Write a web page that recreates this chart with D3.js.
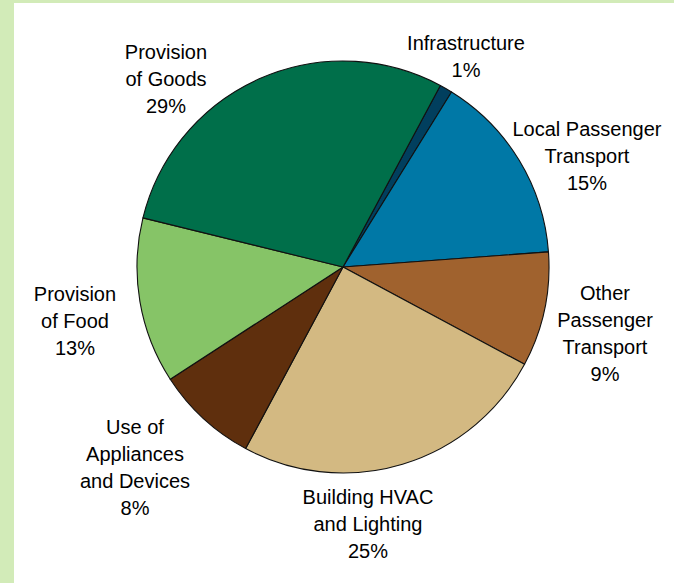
<!DOCTYPE html>
<html>
<head>
<meta charset="utf-8">
<script src="https://cdn.jsdelivr.net/npm/d3@7"></script>
<style>
  html, body { margin: 0; padding: 0; background: #ffffff; }
  svg { display: block; }
  .lbl { font-family: "Liberation Sans", Arial, sans-serif; font-size: 20px; fill: #000; }
</style>
</head>
<body>
<div id="chart"></div>
<script>
// Categorias e valores (%)
var categories = ["Infrastructure", "Local Passenger Transport", "Other Passenger Transport",
    "Building HVAC and Lighting", "Use of Appliances and Devices", "Provision of Food", "Provision of Goods"];
var values = [1, 15, 9, 25, 8, 13, 29];
var labelLines = [
    ["Infrastructure", "1%"],
    ["Local Passenger", "Transport", "15%"],
    ["Other", "Passenger", "Transport", "9%"],
    ["Building HVAC", "and Lighting", "25%"],
    ["Use of", "Appliances", "and Devices", "8%"],
    ["Provision", "of Food", "13%"],
    ["Provision", "of Goods", "29%"]
];
var colors = ["#013f5e", "#0078a6", "#a0622e", "#d3b982", "#5f2f0d", "#86c467", "#006f4a"];

var width = 674, height = 583;
var cx = 343, cy = 267, radius = 206;
var startAngle = 28.2 * Math.PI / 180;

// posicao do centro do primeiro texto de cada rotulo
var labelPos = [[466, 43], [587, 129], [605, 293], [368, 497], [135, 427], [75, 294], [166, 52]];
var lineHeight = 27;

var svg = d3.select("#chart")
    .append("svg")
    .attr("width", width)
    .attr("height", height);

// borda verde
svg.append("rect").attr("x", 0).attr("y", 0).attr("width", width).attr("height", 3).attr("fill", "#d2ebb8");
svg.append("rect").attr("x", 0).attr("y", 0).attr("width", 14).attr("height", height).attr("fill", "#d2ebb8");

var pie = d3.pie()
    .sort(null)
    .value(function(d) { return d; })
    .startAngle(startAngle)
    .endAngle(startAngle + 2 * Math.PI);

var arc = d3.arc().innerRadius(0).outerRadius(radius);

var g = svg.append("g")
    .attr("transform", "translate(" + cx + "," + cy + ")");

g.selectAll("path.slice")
    .data(pie(values))
    .enter()
    .append("path")
    .attr("class", "slice")
    .attr("d", arc)
    .attr("fill", function(d, i) { return colors[i]; })
    .attr("stroke", "#111")
    .attr("stroke-width", 1.1)
    .attr("stroke-linejoin", "round");

// rotulos
labelLines.forEach(function(lines, i) {
    var t = svg.append("text")
        .attr("class", "lbl")
        .attr("text-anchor", "middle");
    lines.forEach(function(line, j) {
        t.append("tspan")
            .attr("x", labelPos[i][0])
            .attr("y", labelPos[i][1] + j * lineHeight)
            .attr("dy", "0.35em")
            .text(line);
    });
});
</script>
</body>
</html>
